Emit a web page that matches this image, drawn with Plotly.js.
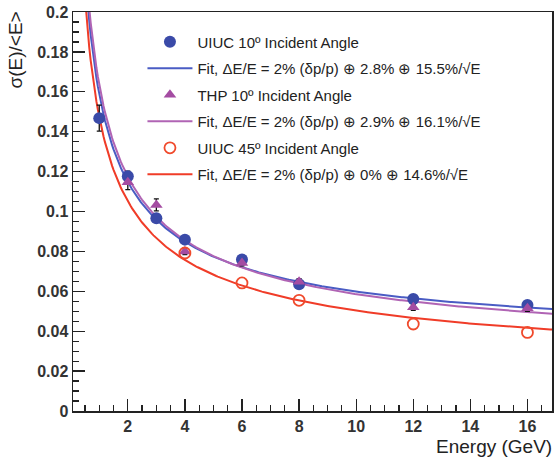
<!DOCTYPE html>
<html>
<head>
<meta charset="utf-8">
<script src="https://cdn.plot.ly/plotly-3.0.1.min.js"></script>
<style>html,body{margin:0;padding:0;background:#fff;}#chart{width:555px;height:458px;}</style>
</head>
<body>
<div id="chart"></div>
<script>
// ---- data ----
const energyUIUC10 = [1, 2, 3, 4, 6, 8, 12, 16];
const resUIUC10    = [0.1468, 0.1177, 0.0966, 0.0859, 0.0759, 0.0635, 0.0561, 0.0531];
const errUIUC10    = [0.0065, 0.0025, 0.0015, 0.0015, 0.0015, 0.0015, 0.0015, 0.0015];

const energyTHP10  = [2, 3, 4, 6, 8, 12, 16];
const resTHP10     = [0.1146, 0.1033, 0.0799, 0.0742, 0.0648, 0.0520, 0.0515];
const errTHP10     = [0.0036, 0.0030, 0.0015, 0.0015, 0.0015, 0.0015, 0.0015];

const energyUIUC45 = [4, 6, 8, 12, 16];
const resUIUC45    = [0.0792, 0.0642, 0.0555, 0.0436, 0.0394];

// fit parameters (stochastic / constant / beam term) as drawn
const fitNames      = ["Fit, \u0394E/E = 2% (\u03b4p/p) \u2295 2.8% \u2295 15.5%/\u221aE",
                       "Fit, \u0394E/E = 2% (\u03b4p/p) \u2295 2.9% \u2295 16.1%/\u221aE",
                       "Fit, \u0394E/E = 2% (\u03b4p/p) \u2295 0% \u2295 14.6%/\u221aE"];
const fitStochastic = [0.155, 0.161, 0.146];
const fitConstant   = [0.028, 0.029, 0.0];
const fitBeam       = [0.02, 0.0, 0.02];
const fitColors     = ["#4a5cc4", "#b064b4", "#f03c28"];

const xTickVals = [2, 4, 6, 8, 10, 12, 14, 16];
const yTickVals = [0, 0.02, 0.04, 0.06, 0.08, 0.1, 0.12, 0.14, 0.16, 0.18, 0.2];
const yTickText = ['0','0.02','0.04','0.06','0.08','0.1','0.12','0.14','0.16','0.18','0.2'];

function fitCurve(i) {
  const xs = [], ys = [];
  for (let e = 0.5; e <= 16.9001; e += 0.05) {
    xs.push(e);
    ys.push(Math.sqrt(fitStochastic[i] * fitStochastic[i] / e +
                      fitConstant[i] * fitConstant[i] + fitBeam[i] * fitBeam[i]));
  }
  return {xs, ys};
}

const fits = [0, 1, 2].map(fitCurve);

const errStyle = {type: 'data', color: '#111', thickness: 1.3, width: 2.5};

const traces = [
  {x: fits[0].xs, y: fits[0].ys, mode: 'lines', line: {color: fitColors[0], width: 2}, name: fitNames[0], legendgroup: 'b', legendrank: 2},
  {x: fits[1].xs, y: fits[1].ys, mode: 'lines', line: {color: fitColors[1], width: 2}, name: fitNames[1], legendgroup: 'd', legendrank: 4},
  {x: fits[2].xs, y: fits[2].ys, mode: 'lines', line: {color: fitColors[2], width: 2}, name: fitNames[2], legendgroup: 'f', legendrank: 6},
  {x: energyUIUC10, y: resUIUC10, mode: 'markers', marker: {opacity: 0, size: 1}, error_y: Object.assign({array: errUIUC10}, errStyle), showlegend: false, hoverinfo: 'skip'},
  {x: energyTHP10, y: resTHP10, mode: 'markers', marker: {opacity: 0, size: 1}, error_y: Object.assign({array: errTHP10}, errStyle), showlegend: false, hoverinfo: 'skip'},
  {x: energyUIUC10, y: resUIUC10, mode: 'markers', name: 'UIUC 10\u00ba Incident Angle',
   marker: {symbol: 'circle', size: 12, color: '#3a4aa8'}, legendgroup: 'a', legendrank: 1},
  {x: energyTHP10, y: resTHP10, mode: 'markers', name: 'THP 10\u00ba Incident Angle',
   marker: {symbol: 'triangle-up', size: 11, color: '#a44ca2'}, legendgroup: 'c', legendrank: 3},
  {x: energyUIUC45, y: resUIUC45, mode: 'markers', name: 'UIUC 45\u00ba Incident Angle',
   marker: {symbol: 'circle-open', size: 11, color: '#f04a2c', line: {width: 1.8}}, legendgroup: 'e', legendrank: 5}
];

const tickFont = {family: 'Liberation Sans, Arial, sans-serif', size: 16, color: '#333', weight: 'bold'};

const layout = {
  width: 555, height: 458,
  margin: {l: 73, r: 3, t: 12, b: 47, pad: 0},
  paper_bgcolor: '#fff', plot_bgcolor: '#fff',
  showlegend: true,
  legend: {
    x: 0.145, y: 0.966, xanchor: 'left', yanchor: 'top',
    bgcolor: 'rgba(0,0,0,0)', borderwidth: 0,
    font: {family: 'Liberation Sans, Arial, sans-serif', size: 15, color: '#222'},
    itemwidth: 45, traceorder: 'grouped', tracegroupgap: 4
  },
  xaxis: {
    range: [0.08, 16.86], tickvals: xTickVals, ticktext: xTickVals.map(String),
    ticks: 'inside', ticklen: 12, tickwidth: 1.3, tickcolor: '#222',
    minor: {dtick: 0.5, tick0: 0, ticks: 'inside', ticklen: 6, tickwidth: 1.2, tickcolor: '#222', showgrid: false},
    showline: true, linecolor: '#222', linewidth: 1.5, mirror: true,
    showgrid: false, zeroline: false, tickfont: tickFont
  },
  yaxis: {
    range: [0, 0.2], tickvals: yTickVals, ticktext: yTickText,
    ticks: 'inside', ticklen: 12, tickwidth: 1.3, tickcolor: '#222',
    minor: {dtick: 0.005, tick0: 0, ticks: 'inside', ticklen: 6, tickwidth: 1.2, tickcolor: '#222', showgrid: false},
    showline: true, linecolor: '#222', linewidth: 1.5, mirror: true,
    showgrid: false, zeroline: false, tickfont: tickFont
  },
  annotations: [
    {text: 'Energy (GeV)', xref: 'paper', yref: 'paper', x: 1.004, y: -0.088, xanchor: 'right', yanchor: 'middle',
     showarrow: false,
     font: {family: 'Liberation Sans, Arial, sans-serif', size: 19, color: '#222'}},
    {text: '\u03c3(E)/&lt;E&gt;', xref: 'paper', yref: 'paper', x: -0.121, y: 1.005, xanchor: 'center', yanchor: 'top',
     textangle: -90, showarrow: false,
     font: {family: 'Liberation Sans, Arial, sans-serif', size: 19, color: '#222'}}
  ]
};

Plotly.newPlot('chart', traces, layout, {staticPlot: true, displayModeBar: false});
</script>
</body>
</html>
